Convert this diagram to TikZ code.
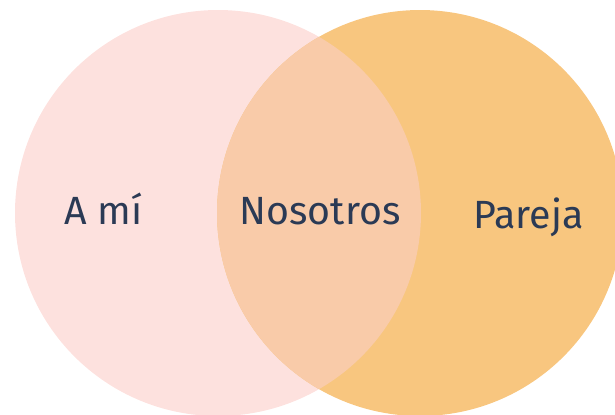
\documentclass[tikz,border=0pt]{standalone}
\usepackage{fontspec}
\setmainfont{Fira Sans}
\definecolor{mepink}{HTML}{FDE1DE}
\definecolor{pairorange}{HTML}{F8C67F}
\definecolor{bothpeach}{HTML}{F9CBA9}
\definecolor{inkblue}{HTML}{2B3A55}
\tikzset{
  setlabel/.style={text=inkblue,font=\fontsize{28}{31}\selectfont,anchor=base,inner sep=0pt}
}

\begin{document}
\begin{tikzpicture}
      \useasboundingbox (0,0) rectangle (15.375,-10.35);
      \fill[mepink] (5.45,-5.325) circle (5.075);
      \fill[pairorange] (10.5,-5.325) circle (5.075);
      \begin{scope}
        \clip (5.45,-5.325) circle (5.075);
        \fill[bothpeach] (10.5,-5.325) circle (5.075);
      \end{scope}
      \node[setlabel] (ami) at (2.59,-5.6) {A mí};
      \node[setlabel] (nosotros) at (8.0,-5.6) {Nosotros};
      \node[setlabel] (pareja) at (13.22,-5.7) {Pareja};
    \end{tikzpicture}
\end{document}
